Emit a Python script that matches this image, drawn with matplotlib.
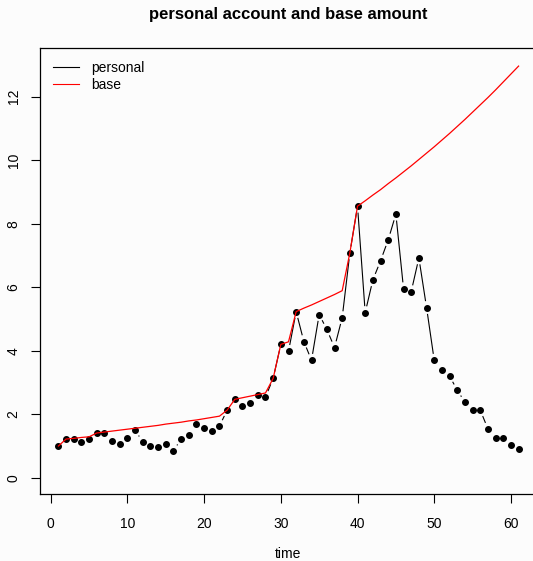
import matplotlib
matplotlib.use('Agg')
import numpy as np
import matplotlib.pyplot as plt

plt.rcParams['font.family'] = ['Liberation Sans', 'DejaVu Sans']

# values
time = list(range(1, 62))
personal = [1.00, 1.22, 1.22, 1.13, 1.22, 1.41, 1.41, 1.16, 1.07, 1.25,
            1.50, 1.13, 1.00, 0.97, 1.07, 0.85, 1.22, 1.35, 1.69, 1.57,
            1.47, 1.63, 2.13, 2.47, 2.26, 2.35, 2.60, 2.54, 3.13, 4.20,
            3.98, 5.23, 4.29, 3.70, 5.14, 4.67, 4.10, 5.04, 7.08, 8.55,
            5.20, 6.23, 6.83, 7.49, 8.30, 5.95, 5.86, 6.92, 5.36, 3.70,
            3.38, 3.20, 2.76, 2.38, 2.13, 2.13, 1.54, 1.25, 1.25, 1.03,
            0.91]
base = [1.00, 1.22, 1.24, 1.27, 1.29, 1.41, 1.44, 1.47, 1.50, 1.53,
        1.56, 1.59, 1.62, 1.65, 1.69, 1.72, 1.75, 1.79, 1.82, 1.86,
        1.90, 1.94, 2.13, 2.47, 2.52, 2.57, 2.62, 2.67, 3.13, 4.20,
        4.28, 5.23, 5.34, 5.44, 5.55, 5.66, 5.77, 5.89, 7.08, 8.55,
        8.72, 8.90, 9.07, 9.26, 9.44, 9.63, 9.82, 10.02, 10.22, 10.42,
        10.63, 10.84, 11.06, 11.28, 11.51, 11.74, 11.97, 12.21, 12.46, 12.71,
        12.96]

W, H, DPI = 533, 561, 100
fig = plt.figure(figsize=(W / DPI, H / DPI), dpi=DPI, facecolor='#fcfcfc')
ax = fig.add_axes([40 / W, 1 - 494.3 / H, 497 / W, 446 / H])
ax.set_facecolor('#fcfcfc')
ax.set_xlim(-1.4, 63.4)
ax.set_ylim(-0.52, 13.52)

for side in ax.spines.values():
    side.set_linewidth(0.9)
    side.set_color('black')

ax.set_xticks(range(0, 61, 10))
ax.set_yticks(range(0, 13, 2))
ax.tick_params(axis='both', length=6.5, width=0.8, labelsize=10, color='black')
ax.tick_params(axis='x', pad=9.5)
ax.tick_params(axis='y', pad=7.5)
for lab in ax.get_yticklabels():
    lab.set_rotation(90)
    lab.set_va('center')

# type="b" style: points joined by segments that stop short of each point
gap = 7.0  # pixels
pix = ax.transData.transform(np.column_stack([time, personal]))
inv = ax.transData.inverted()
for (x0, y0), (x1, y1) in zip(pix[:-1], pix[1:]):
    dist = np.hypot(x1 - x0, y1 - y0)
    if dist <= 2 * gap:
        continue
    ux, uy = (x1 - x0) / dist, (y1 - y0) / dist
    seg = inv.transform([[x0 + ux * gap, y0 + uy * gap],
                         [x1 - ux * gap, y1 - uy * gap]])
    ax.plot(seg[:, 0], seg[:, 1], color='black', linewidth=0.8)

ax.plot(time, personal, linestyle='none', marker='o', markersize=4.0,
        color='black')
ax.plot(time, base, color='red', linewidth=0.9)

handles = [plt.Line2D([], [], color='black', linewidth=0.8),
           plt.Line2D([], [], color='red', linewidth=0.8)]
ax.legend(handles, ['personal', 'base'], loc='upper left', frameon=False,
          fontsize=10, handlelength=1.9, handletextpad=0.9,
          labelspacing=0.25, borderaxespad=0.5,
          bbox_to_anchor=(0.0, 1.0))

ax.set_xlabel('time', fontsize=10, labelpad=12)
fig.text((40 + 537) / 2 / W, 1 - 14 / H, 'personal account and base amount',
         ha='center', va='center', fontsize=12, fontweight='bold')

fig.savefig('out.png', dpi=DPI, facecolor=fig.get_facecolor())
